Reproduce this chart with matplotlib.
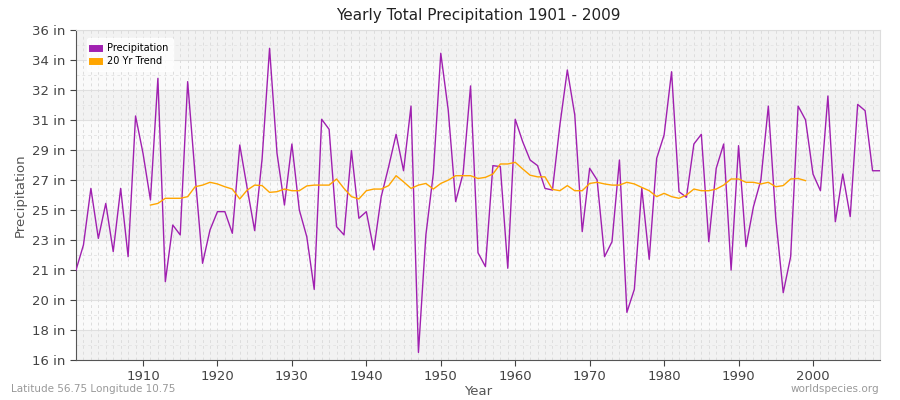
import numpy as np
import matplotlib
matplotlib.use("Agg")
import matplotlib.pyplot as plt

precip = [21.45,22.97,26.40,23.37,25.49,22.57,26.40,22.26,30.79,28.53,
          25.70,33.07,20.75,24.18,23.58,32.87,27.21,21.86,23.88,24.99,
          24.99,23.68,29.03,26.40,23.84,28.2,34.89,28.53,25.39,29.09,
          25.09,23.47,20.28,30.59,29.98,24.08,23.58,28.69,24.59,24.99,
          22.67,25.90,27.72,29.68,27.47,31.39,16.46,23.58,27.31,34.59,
          31.15,25.60,27.31,32.61,22.5,21.66,27.78,27.72,21.56,30.59,
          29.23,28.12,27.78,26.40,26.30,30.24,33.58,30.85,23.78,27.62,
          26.91,22.26,23.17,28.12,18.89,20.28,26.40,22.10,28.22,29.64,
          33.47,26.2,25.86,29.09,29.68,23.17,27.62,29.09,21.45,28.99,
          22.87,25.29,26.91,31.39,24.59,20.08,22.26,31.39,30.55,27.27,
          26.26,32.0,24.38,27.27,24.69,31.49,31.11,27.47,27.47]
trend = [25.39,25.49,25.8,25.8,25.8,25.9,26.5,26.6,26.77,26.67,
         26.5,26.36,25.76,26.3,26.6,26.57,26.16,26.2,26.36,26.26,
         26.26,26.55,26.6,26.6,26.6,26.97,26.4,25.9,25.76,26.26,
         26.36,26.36,26.57,27.17,26.8,26.4,26.6,26.7,26.36,26.7,
         26.9,27.17,27.17,27.17,27.0,27.07,27.27,27.88,27.88,27.98,
         27.58,27.2,27.1,27.1,26.34,26.26,26.57,26.26,26.26,26.7,
         26.77,26.67,26.6,26.6,26.77,26.67,26.46,26.26,25.9,26.1,
         25.9,25.8,26.0,26.36,26.26,26.26,26.36,26.6,26.97,26.97,
         26.77,26.77,26.67,26.77,26.5,26.57,26.97,27.0,26.87]
first_year = 1901
trend_first_year = 1911
ytick_labels = ["16 in","18 in","20 in","21 in","23 in","25 in","27 in",
                "29 in","31 in","32 in","34 in","36 in"]
xtick_years = [1910,1920,1930,1940,1950,1960,1970,1980,1990,2000]

years = np.arange(first_year, first_year + len(precip))
tyears = np.arange(trend_first_year, trend_first_year + len(trend))

fig = plt.figure(figsize=(9, 4), dpi=100)
ax = fig.add_axes([76/900, 40/400, (880-76)/900, 330/400])
ymin, ymax = 16, 36
yt = np.linspace(ymin, ymax, len(ytick_labels))
ax.set_xlim(years[0], years[-1])
ax.set_ylim(ymin, ymax)

for i in range(len(yt) - 1):
    ax.axhspan(yt[i], yt[i+1], color="#f2f2f2" if i % 2 == 0 else "#fafafa", zorder=0, lw=0)
for y in yt:
    ax.axhline(y, color="#e0e0e0", lw=0.8, zorder=1)
for i in range(len(yt) - 1):
    ax.axhline((yt[i]+yt[i+1])/2, color="#e6e6e6", lw=0.7, ls=(0, (3, 3)), zorder=1)
for yv in years:
    ax.axvline(yv, color="#dddddd", lw=0.7, ls=(0, (3, 3)), zorder=1)

ax.plot(years, precip, color="#a020b0", lw=1.0, zorder=3, label="Precipitation")
ax.plot(tyears, trend, color="#ffa500", lw=1.0, zorder=3, label="20 Yr Trend")

ax.set_yticks(yt)
ax.set_yticklabels(ytick_labels)
ax.set_xticks(xtick_years)
ax.tick_params(colors="#444444", labelsize=9.5, length=4)
for s in ["top", "right"]:
    ax.spines[s].set_color("#dddddd")
for s in ["left", "bottom"]:
    ax.spines[s].set_color("#555555")

ax.set_title("Yearly Total Precipitation 1901 - 2009", fontsize=11, color="#222222", pad=7)
ax.set_xlabel("Year", color="#555555", fontsize=9.5, labelpad=1)
ax.set_ylabel("Precipitation", color="#555555", fontsize=9.5, labelpad=4)

leg = ax.legend(loc="upper left", fontsize=7, handlelength=0.7, handleheight=0.7,
                frameon=True, borderpad=0.5, labelspacing=0.3, handletextpad=0.8,
                bbox_to_anchor=(0.008, 0.99))
for h in leg.legend_handles:
    h.set_linewidth(5)
leg.get_frame().set_edgecolor("white")
leg.get_frame().set_facecolor("white")

fig.text(0.012, 0.02, "Latitude 56.75 Longitude 10.75", fontsize=7.5, color="#999999")
fig.text(0.977, 0.02, "worldspecies.org", fontsize=7.5, color="#999999", ha="right")

fig.savefig("out.png", dpi=100)
